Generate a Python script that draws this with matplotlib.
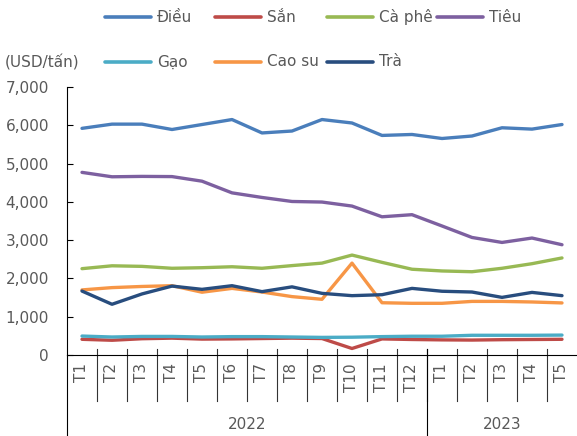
import numpy as np
import matplotlib.pyplot as plt
from matplotlib.lines import Line2D

plt.rcParams['font.family'] = ['DejaVu Sans']

months = ['T1', 'T2', 'T3', 'T4', 'T5', 'T6', 'T7', 'T8', 'T9', 'T10', 'T11', 'T12',
          'T1', 'T2', 'T3', 'T4', 'T5']
years = ['2022', '2023']
year_counts = [12, 5]

dieu = [5920, 6030, 6030, 5890, 6020, 6150, 5800, 5850, 6150, 6060, 5735, 5760,
        5655, 5720, 5935, 5900, 6020]
san = [410, 385, 425, 440, 415, 420, 430, 440, 430, 170, 420, 405,
       395, 390, 400, 405, 410]
caphe = [2255, 2330, 2315, 2265, 2280, 2305, 2265, 2335, 2400, 2610, 2420, 2240,
         2195, 2175, 2265, 2385, 2535]
tieu = [4770, 4655, 4665, 4660, 4540, 4235, 4115, 4010, 3995, 3890, 3610, 3665,
        3370, 3070, 2940, 3055, 2880]
gao = [495, 470, 485, 485, 470, 480, 480, 470, 460, 465, 480, 490,
       490, 515, 515, 515, 520]
caosu = [1700, 1760, 1790, 1810, 1640, 1740, 1645, 1525, 1455, 2400, 1365, 1350,
         1350, 1400, 1400, 1385, 1360]
tra = [1670, 1325, 1595, 1800, 1715, 1810, 1655, 1780, 1610, 1550, 1575, 1740,
       1665, 1645, 1505, 1635, 1550]

names = ['Điều', 'Sắn', 'Cà phê', 'Tiêu', 'Gạo', 'Cao su', 'Trà']
series = [dieu, san, caphe, tieu, gao, caosu, tra]
colors = ['#4a7ebb', '#be4b48', '#98b954', '#7d60a0', '#4bacc6', '#f79646', '#284d7e']

text_color = '#595959'
fs = 11

fig = plt.figure(figsize=(5.77, 4.36), dpi=100)
ax = fig.add_axes([67 / 577, 1 - 355 / 436, 510 / 577, 268 / 436])

x = np.arange(len(months))
# draw order: lower lines first so the layering matches
order = [5, 6, 2, 3, 0, 1, 4]
for i in order:
    ax.plot(x, series[i], color=colors[i], lw=2.4, solid_capstyle='round', zorder=3)

ax.set_xlim(-0.5, len(months) - 0.5)
ax.set_ylim(0, 7000)
ax.set_yticks(np.arange(0, 7001, 1000))
ax.set_yticklabels([f'{v:,}' for v in range(0, 7001, 1000)])
ax.tick_params(axis='y', direction='in', length=4, width=0.8, colors='black',
               labelcolor=text_color, labelsize=fs, pad=13)

ax.set_xticks(x)
ax.set_xticklabels(months, rotation=90, color=text_color, fontsize=fs)
ax.tick_params(axis='x', length=0, pad=6)

for s in ['top', 'right']:
    ax.spines[s].set_visible(False)
for s in ['left', 'bottom']:
    ax.spines[s].set_color('black')
    ax.spines[s].set_linewidth(0.8)

# category separators below the axis
trans = ax.get_xaxis_transform()
for b in np.arange(0.5, len(months) - 1, 1.0):
    ax.plot([b, b], [0.022, -0.17], color='#333333', lw=0.8, transform=trans, clip_on=False)

# year separators and labels
ax.plot([-0.5, -0.5], [0, -0.31], color='black', lw=0.8, transform=trans, clip_on=False)
start = 0
for y, n in zip(years, year_counts):
    end = start + n
    if start > 0:
        ax.plot([start - 0.5, start - 0.5], [0.022, -0.31], color='black', lw=0.8,
                transform=trans, clip_on=False)
    ax.text((start + end - 1) / 2, -0.26, y, transform=trans, ha='center', va='center',
            color=text_color, fontsize=fs)
    start = end

# legend in two rows
row1 = [0, 1, 2, 3]
row2 = [4, 5, 6]
xs = [105, 215, 327, 437]
for row, ypix in [(row1, 17), (row2, 62)]:
    for k, i in enumerate(row):
        x0 = xs[k]
        yf = 1 - ypix / 436
        fig.add_artist(Line2D([x0 / 577, (x0 + 46) / 577], [yf, yf], color=colors[i], lw=2.6,
                              solid_capstyle='round'))
        fig.text((x0 + 52) / 577, yf, names[i], ha='left', va='center', color=text_color,
                 fontsize=fs)

fig.text(5 / 577, 1 - 62 / 436, '(USD/tấn)', ha='left', va='center', color=text_color,
         fontsize=fs)

fig.savefig('out.png', dpi=100)
